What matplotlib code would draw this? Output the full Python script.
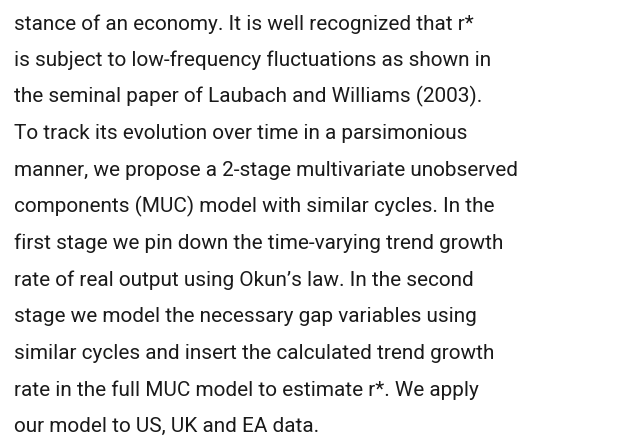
import matplotlib
matplotlib.use('Agg')
import matplotlib.pyplot as plt
from matplotlib import font_manager

lines = [
    "stance of an economy. It is well recognized that r*",
    "is subject to low-frequency fluctuations as shown in",
    "the seminal paper of Laubach and Williams (2003).",
    "To track its evolution over time in a parsimonious",
    "manner, we propose a 2-stage multivariate unobserved",
    "components (MUC) model with similar cycles. In the",
    "first stage we pin down the time-varying trend growth",
    "rate of real output using Okun\u2019s law. In the second",
    "stage we model the necessary gap variables using",
    "similar cycles and insert the calculated trend growth",
    "rate in the full MUC model to estimate r*. We apply",
    "our model to US, UK and EA data.",
]

names = sorted({f.name for f in font_manager.fontManager.ttflist})
family = 'Liberation Sans Narrow' if 'Liberation Sans Narrow' in names else 'Roboto'

W, H = 635, 437
fig = plt.figure(figsize=(W / 100, H / 100), dpi=100)
fig.patch.set_facecolor('white')

left = 14 / W
first_base = 29.5
spacing = 36.6
target_width = 506  # px width of the longest line

texts = []
for i, s in enumerate(lines):
    y = 1 - (first_base + i * spacing) / H
    t = fig.text(left, y, s, family=family, fontsize=15, color='#1a1a1a',
                 ha='left', va='baseline')
    texts.append(t)

# scale font size so the longest line matches the reference width
fig.canvas.draw()
r = fig.canvas.get_renderer()
widest = max(t.get_window_extent(r).width for t in texts)
size = 15 * target_width / widest
for t in texts:
    t.set_fontsize(size)

fig.savefig('out.png', dpi=100, facecolor='white')
